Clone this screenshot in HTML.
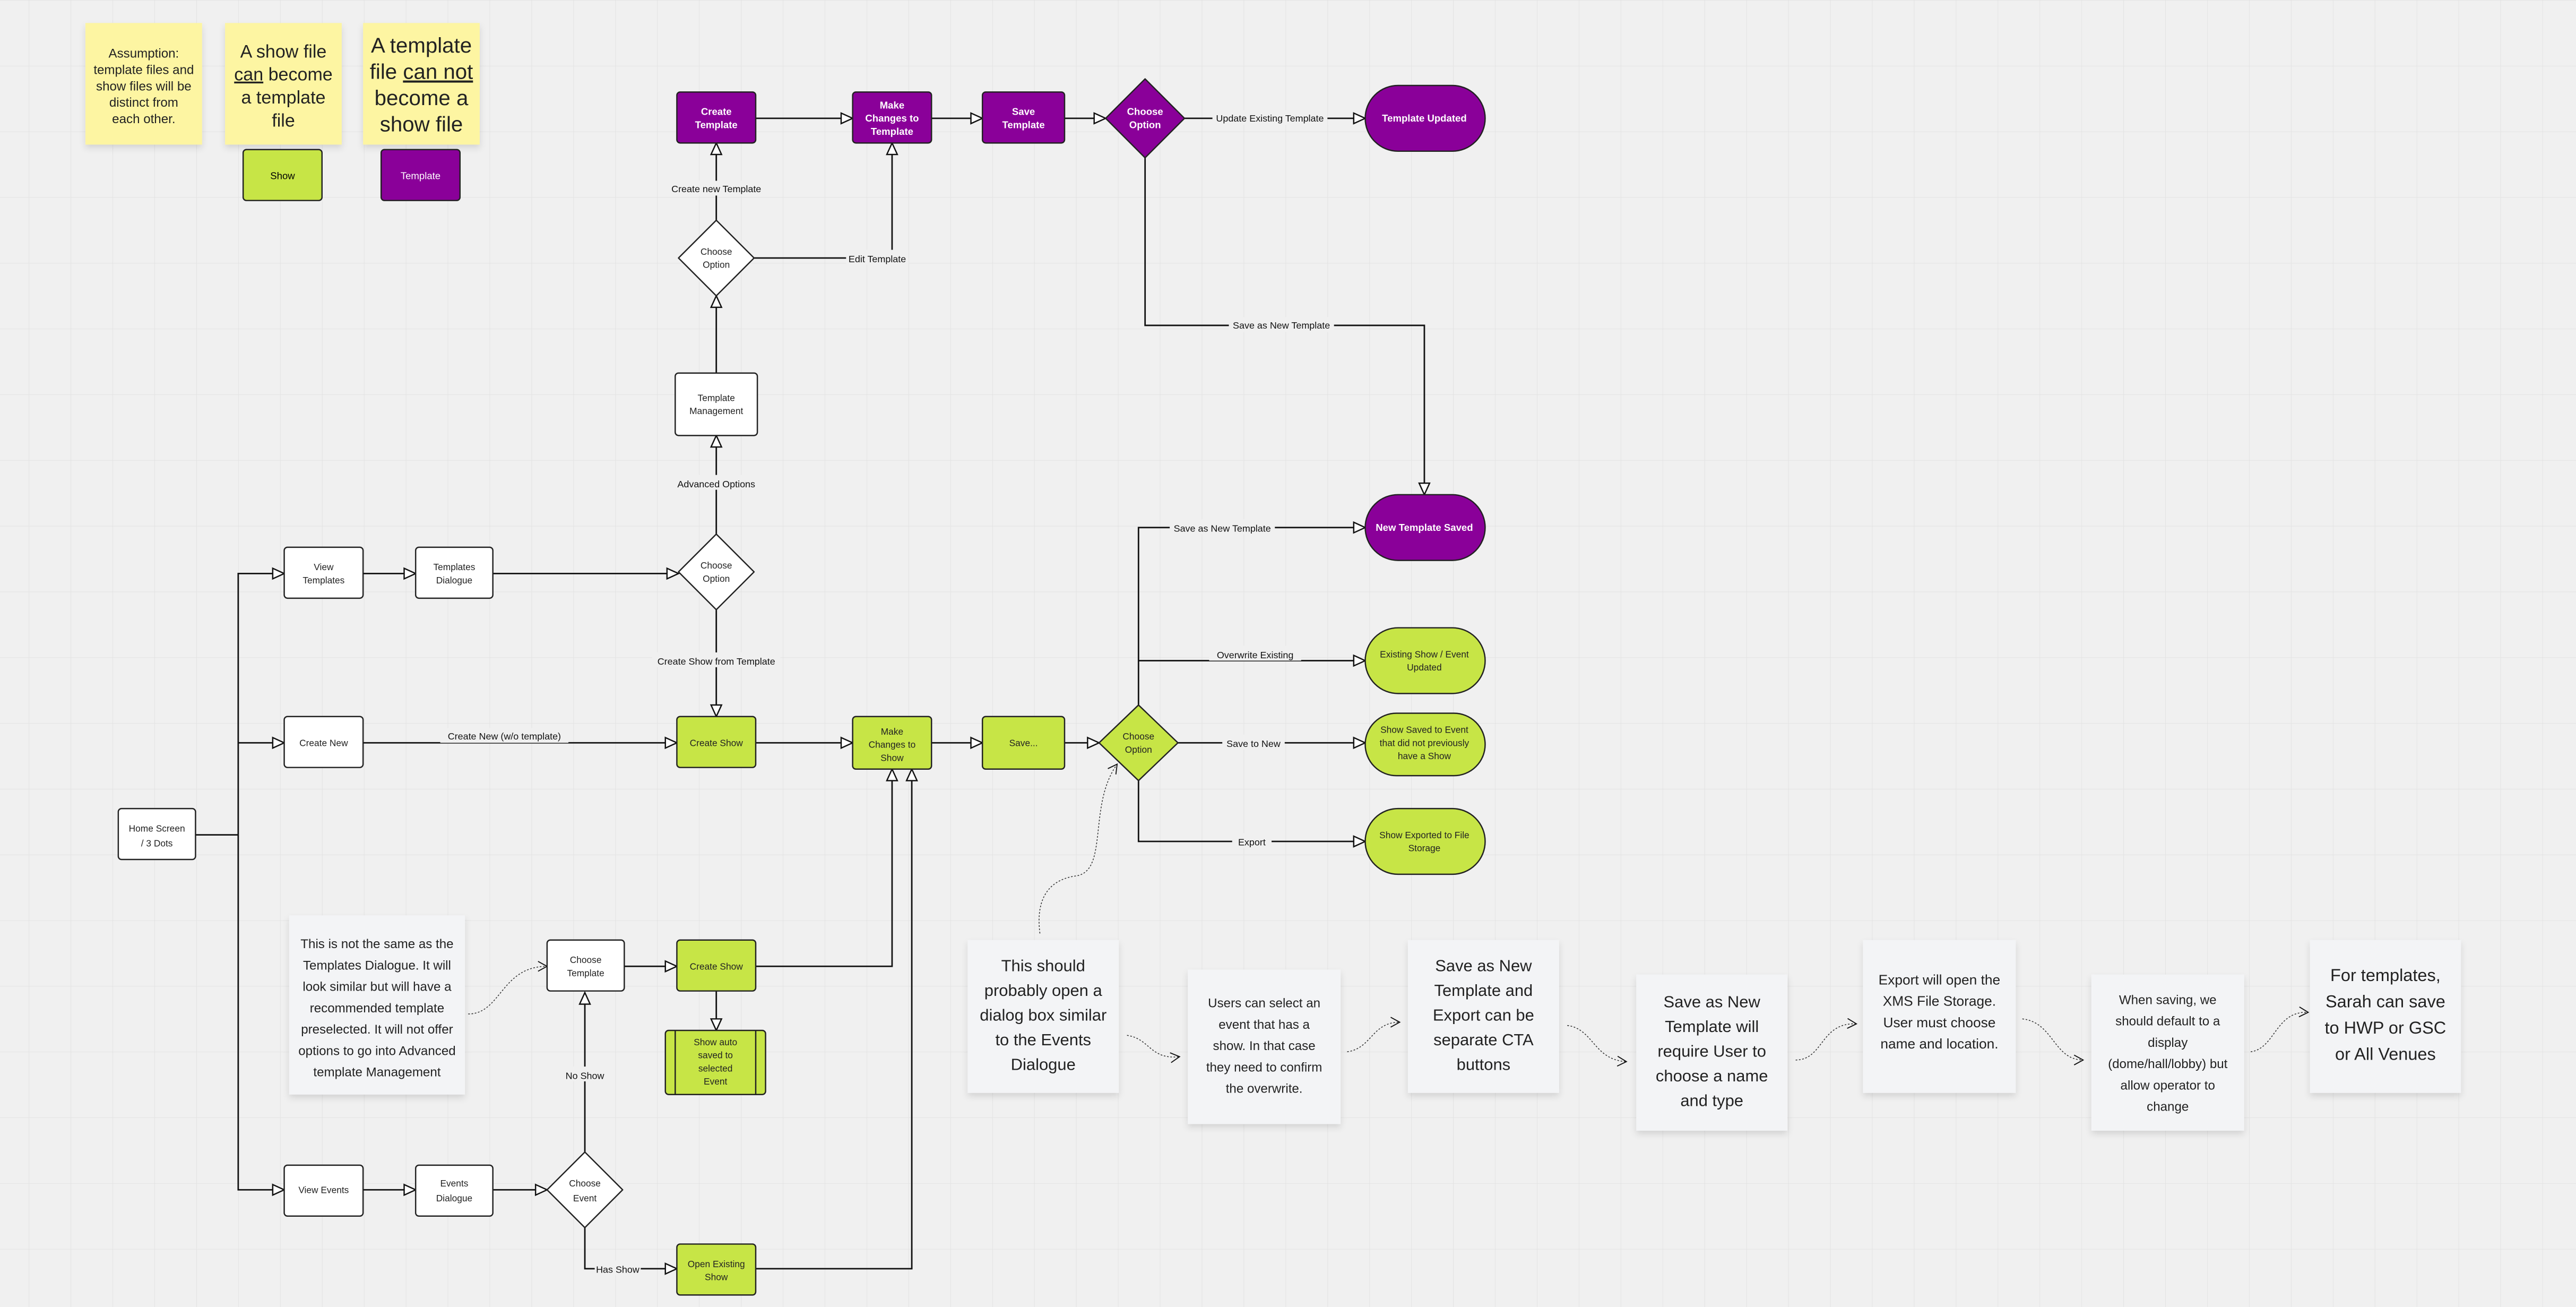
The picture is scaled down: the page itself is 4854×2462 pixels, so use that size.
<!DOCTYPE html>
<html><head><meta charset="utf-8">
<style>
html,body{margin:0;padding:0;background:#efefef;}
svg{display:block;}
text{font-family:"Liberation Sans",sans-serif;}
.nt{font-family:"Liberation Sans Narrow","Liberation Sans",sans-serif;}
</style></head>
<body>
<svg width="4854" height="2462" viewBox="0 0 1568 795.3" xmlns="http://www.w3.org/2000/svg">
<defs>
<pattern id="g" width="25.5" height="40" patternUnits="userSpaceOnUse" x="-8" y="0">
<rect width="25.5" height="40" fill="#f0f0f0"/>
<path d="M0 0V40M0 0H25.5" stroke="#e2e2e2" stroke-width="0.6" fill="none"/>
</pattern>
<marker id="a" markerUnits="userSpaceOnUse" markerWidth="9" markerHeight="9" refX="7.5" refY="4" orient="auto">
<path d="M0.5 0.8L7.5 4L0.5 7.2Z" fill="#fff" stroke="#111" stroke-width="0.8"/>
</marker>
<marker id="b" markerUnits="userSpaceOnUse" markerWidth="8" markerHeight="8" refX="6" refY="3.5" orient="auto">
<path d="M0.5 0.5L6 3.5L0.5 6.5" fill="none" stroke="#111" stroke-width="0.6"/>
</marker>
<filter id="sh" x="-20%" y="-20%" width="140%" height="150%"><feDropShadow dx="0" dy="2" stdDeviation="2" flood-color="#000" flood-opacity="0.12"/></filter>
</defs>
<rect width="1568" height="795.3" fill="url(#g)"/>

<!-- sticky notes -->
<g filter="url(#sh)">
<rect x="52" y="14" width="71" height="74" fill="#fdf5a2"/>
<rect x="137" y="14" width="71" height="74" fill="#fdf5a2"/>
<rect x="221" y="14" width="71" height="74" fill="#fdf5a2"/>
</g>
<g class="nt" text-anchor="middle" fill="#222">
<text font-size="7.8"><tspan x="87.5" y="35">Assumption:</tspan><tspan x="87.5" y="45">template files and</tspan><tspan x="87.5" y="55">show files will be</tspan><tspan x="87.5" y="65">distinct from</tspan><tspan x="87.5" y="75">each other.</tspan></text>
<text font-size="11"><tspan x="172.5" y="35">A show file</tspan><tspan x="172.5" y="49"><tspan text-decoration="underline">can</tspan>  become</tspan><tspan x="172.5" y="63">a template</tspan><tspan x="172.5" y="77">file</tspan></text>
<text font-size="13"><tspan x="256.5" y="32">A template</tspan><tspan x="256.5" y="48">file <tspan text-decoration="underline">can not</tspan></tspan><tspan x="256.5" y="64">become a</tspan><tspan x="256.5" y="80">show file</tspan></text>
</g>
<rect x="148" y="91" width="48" height="31" rx="2" fill="#c7e546" stroke="#222" stroke-width="0.8"/>
<text x="172" y="109" font-size="6" text-anchor="middle" class="nt">Show</text>
<rect x="232" y="91" width="48" height="31" rx="2" fill="#8a0099" stroke="#222" stroke-width="0.8"/>
<text x="256" y="109" font-size="6" text-anchor="middle" class="nt" fill="#fff">Template</text>

<!-- connectors -->
<g stroke="#111" stroke-width="0.9" fill="none">
<path d="M460 72H519" marker-end="url(#a)"/>
<path d="M567 72H598" marker-end="url(#a)"/>
<path d="M648 72H673" marker-end="url(#a)"/>
<path d="M721 72H831" marker-end="url(#a)"/>
<path d="M697 96V198H867V301" marker-end="url(#a)"/>
<path d="M436 134V87" marker-end="url(#a)"/>
<path d="M459 157H543V87" marker-end="url(#a)"/>
<path d="M436 227V180" marker-end="url(#a)"/>
<path d="M436 325V265" marker-end="url(#a)"/>
<path d="M221 349H253" marker-end="url(#a)"/>
<path d="M300 349H413" marker-end="url(#a)"/>
<path d="M436 371V436" marker-end="url(#a)"/>
<path d="M221 452H412" marker-end="url(#a)"/>
<path d="M460 452H519" marker-end="url(#a)"/>
<path d="M567 452H598" marker-end="url(#a)"/>
<path d="M648 452H669" marker-end="url(#a)"/>
<path d="M119 508H145"/>
<path d="M145 508V349H173" marker-end="url(#a)"/>
<path d="M145 452H173" marker-end="url(#a)"/>
<path d="M145 508V724H173" marker-end="url(#a)"/>
<path d="M221 724H253" marker-end="url(#a)"/>
<path d="M300 724H333" marker-end="url(#a)"/>
<path d="M356 701V604" marker-end="url(#a)"/>
<path d="M356 747V772H412" marker-end="url(#a)"/>
<path d="M380 588H412" marker-end="url(#a)"/>
<path d="M460 588H543V468" marker-end="url(#a)"/>
<path d="M436 603V627" marker-end="url(#a)"/>
<path d="M460 772H555V468" marker-end="url(#a)"/>
<path d="M693 429V321H831" marker-end="url(#a)"/>
<path d="M693 402H831" marker-end="url(#a)"/>
<path d="M717 452H831" marker-end="url(#a)"/>
<path d="M693 475V512H831" marker-end="url(#a)"/>
</g>
<!-- dotted curves -->
<g stroke="#333" stroke-width="0.5" fill="none" stroke-dasharray="1 1">
<path d="M285 617C305 617 305 588 333 588" marker-end="url(#b)"/>
<path d="M633 568C630 545 640 535 655 533C675 530 662 490 680 465" marker-end="url(#b)"/>
<path d="M686 630C700 632 700 645 718 643" marker-end="url(#b)"/>
<path d="M820 640C835 638 835 622 852 622" marker-end="url(#b)"/>
<path d="M954 624C970 626 970 645 990 646" marker-end="url(#b)"/>
<path d="M1093 645C1110 645 1108 622 1130 623" marker-end="url(#b)"/>
<path d="M1231 620C1250 622 1250 645 1268 645" marker-end="url(#b)"/>
<path d="M1370 640C1385 638 1385 615 1405 616" marker-end="url(#b)"/>
</g>

<!-- label backgrounds + labels -->
<g font-size="5.8" text-anchor="middle" fill="#111">
<rect x="738" y="67" width="70" height="9" fill="#f0f0f0"/><text x="773" y="74">Update Existing Template</text>
<rect x="748" y="193" width="64" height="9" fill="#f0f0f0"/><text x="780" y="200">Save as New Template</text>
<rect x="406" y="110" width="60" height="9" fill="#f0f0f0"/><text x="436" y="117">Create new Template</text>
<rect x="515" y="152" width="38" height="9" fill="#f0f0f0"/><text x="534" y="159.5">Edit Template</text>
<rect x="410" y="289" width="52" height="9" fill="#f0f0f0"/><text x="436" y="296.5">Advanced Options</text>
<rect x="397" y="397" width="78" height="9" fill="#f0f0f0"/><text x="436" y="404.5">Create Show from Template</text>
<rect x="268" y="443" width="78" height="9" fill="#f0f0f0"/><text x="307" y="450">Create New (w/o template)</text>
<rect x="342" y="649" width="28" height="9" fill="#f0f0f0"/><text x="356" y="656.5">No Show</text>
<rect x="362" y="767" width="28" height="9" fill="#f0f0f0"/><text x="376" y="774.5">Has Show</text>
<rect x="712" y="316" width="64" height="9" fill="#f0f0f0"/><text x="744" y="323.5">Save as New Template</text>
<rect x="736" y="393" width="56" height="9" fill="#f0f0f0"/><text x="764" y="400.5">Overwrite Existing</text>
<rect x="744" y="447" width="38" height="9" fill="#f0f0f0"/><text x="763" y="454.5">Save to New</text>
<rect x="750" y="507" width="24" height="9" fill="#f0f0f0"/><text x="762" y="514.5">Export</text>
</g>

<!-- purple nodes -->
<g stroke="#222" stroke-width="0.8" fill="#8a0099">
<rect x="412" y="56" width="48" height="31" rx="2"/>
<rect x="519" y="56" width="48" height="31" rx="2"/>
<rect x="598" y="56" width="50" height="31" rx="2"/>
<path d="M697 48L721 72L697 96L673 72Z" stroke-linejoin="round"/>
<rect x="831" y="52" width="73" height="40" rx="20"/>
<rect x="831" y="301" width="73" height="40" rx="20"/>
</g>
<g fill="#fff" font-size="6" font-weight="bold" text-anchor="middle" class="nt">
<text><tspan x="436" y="70">Create</tspan><tspan x="436" y="78">Template</tspan></text>
<text><tspan x="543" y="66">Make</tspan><tspan x="543" y="74">Changes to</tspan><tspan x="543" y="82">Template</tspan></text>
<text><tspan x="623" y="70">Save</tspan><tspan x="623" y="78">Template</tspan></text>
<text><tspan x="697" y="70">Choose</tspan><tspan x="697" y="78">Option</tspan></text>
<text x="867" y="74">Template Updated</text>
<text x="867" y="323">New Template Saved</text>
</g>

<!-- white nodes -->
<g stroke="#222" stroke-width="0.8" fill="#fff">
<path d="M436 134L459 157L436 180L413 157Z" stroke-linejoin="round"/>
<rect x="411" y="227" width="50" height="38" rx="2"/>
<path d="M436 325L459 348L436 371L413 348Z" stroke-linejoin="round"/>
<rect x="173" y="333" width="48" height="31" rx="2"/>
<rect x="253" y="333" width="47" height="31" rx="2"/>
<rect x="173" y="436" width="48" height="31" rx="2"/>
<rect x="72" y="492" width="47" height="31" rx="2"/>
<rect x="173" y="709" width="48" height="31" rx="2"/>
<rect x="253" y="709" width="47" height="31" rx="2"/>
<path d="M356 701L379 724L356 747L333 724Z" stroke-linejoin="round"/>
<rect x="333" y="572" width="47" height="31" rx="2"/>
</g>
<g fill="#222" font-size="5.6" text-anchor="middle">
<text><tspan x="436" y="155">Choose</tspan><tspan x="436" y="163">Option</tspan></text>
<text><tspan x="436" y="244">Template</tspan><tspan x="436" y="252">Management</tspan></text>
<text><tspan x="436" y="346">Choose</tspan><tspan x="436" y="354">Option</tspan></text>
<text><tspan x="197" y="347">View</tspan><tspan x="197" y="355">Templates</tspan></text>
<text><tspan x="276.5" y="347">Templates</tspan><tspan x="276.5" y="355">Dialogue</tspan></text>
<text x="197" y="454">Create New</text>
<text><tspan x="95.5" y="506">Home Screen</tspan><tspan x="95.5" y="515">/ 3 Dots</tspan></text>
<text x="197" y="726">View  Events</text>
<text><tspan x="276.5" y="722">Events</tspan><tspan x="276.5" y="731">Dialogue</tspan></text>
<text><tspan x="356" y="722">Choose</tspan><tspan x="356" y="731">Event</tspan></text>
<text><tspan x="356.5" y="586">Choose</tspan><tspan x="356.5" y="594">Template</tspan></text>
</g>

<!-- green nodes -->
<g stroke="#222" stroke-width="0.8" fill="#c7e546">
<rect x="412" y="436" width="48" height="31" rx="2"/>
<rect x="519" y="436" width="48" height="32" rx="2"/>
<rect x="598" y="436" width="50" height="32" rx="2"/>
<path d="M693 429L717 452L693 475L669 452Z" stroke-linejoin="round"/>
<rect x="831" y="382" width="73" height="40" rx="20"/>
<rect x="831" y="434" width="73" height="38" rx="19"/>
<rect x="831" y="492" width="73" height="40" rx="20"/>
<rect x="412" y="572" width="48" height="31" rx="2"/>
<rect x="405" y="627" width="61" height="39" rx="2"/>
<path d="M411 627V666M460 627V666"/>
<rect x="412" y="757" width="48" height="31" rx="2"/>
</g>
<g fill="#222" font-size="5.6" text-anchor="middle">
<text x="436" y="454">Create Show</text>
<text><tspan x="543" y="447">Make</tspan><tspan x="543" y="455">Changes to</tspan><tspan x="543" y="463">Show</tspan></text>
<text x="623" y="454">Save...</text>
<text><tspan x="693" y="450">Choose</tspan><tspan x="693" y="458">Option</tspan></text>
<text><tspan x="867" y="400">Existing Show / Event</tspan><tspan x="867" y="408">Updated</tspan></text>
<text><tspan x="867" y="446">Show Saved to Event</tspan><tspan x="867" y="454">that did not previously</tspan><tspan x="867" y="462">have a Show</tspan></text>
<text><tspan x="867" y="510">Show Exported to File</tspan><tspan x="867" y="518">Storage</tspan></text>
<text x="436" y="590">Create Show</text>
<text><tspan x="435.5" y="636">Show auto</tspan><tspan x="435.5" y="644">saved to</tspan><tspan x="435.5" y="652">selected</tspan><tspan x="435.5" y="660">Event</tspan></text>
<text><tspan x="436" y="771">Open Existing</tspan><tspan x="436" y="779">Show</tspan></text>
</g>

<!-- grey comment notes -->
<g fill="#f3f4f6" filter="url(#sh)">
<rect x="176" y="557" width="107" height="109"/>
<rect x="589" y="572" width="92" height="93"/>
<rect x="723" y="590" width="93" height="94"/>
<rect x="857" y="572" width="92" height="93"/>
<rect x="996" y="593" width="92" height="95"/>
<rect x="1134" y="572" width="93" height="93"/>
<rect x="1273" y="593" width="93" height="95"/>
<rect x="1406" y="572" width="92" height="93"/>
</g>
<g class="nt" fill="#222" text-anchor="middle">
<text font-size="7.8"><tspan x="229.5" y="577">This is not the same as the</tspan><tspan x="229.5" y="590">Templates Dialogue. It will</tspan><tspan x="229.5" y="603">look similar but will have a</tspan><tspan x="229.5" y="616">recommended template</tspan><tspan x="229.5" y="629">preselected. It will not offer</tspan><tspan x="229.5" y="642">options to go into Advanced</tspan><tspan x="229.5" y="655">template Management</tspan></text>
<text font-size="10"><tspan x="635" y="591">This should</tspan><tspan x="635" y="606">probably open a</tspan><tspan x="635" y="621">dialog box similar</tspan><tspan x="635" y="636">to the Events</tspan><tspan x="635" y="651">Dialogue</tspan></text>
<text font-size="7.8"><tspan x="769.5" y="613">Users can select an</tspan><tspan x="769.5" y="626">event that has a</tspan><tspan x="769.5" y="639">show. In that case</tspan><tspan x="769.5" y="652">they need to confirm</tspan><tspan x="769.5" y="665">the overwrite.</tspan></text>
<text font-size="10"><tspan x="903" y="591">Save as New</tspan><tspan x="903" y="606">Template and</tspan><tspan x="903" y="621">Export can be</tspan><tspan x="903" y="636">separate CTA</tspan><tspan x="903" y="651">buttons</tspan></text>
<text font-size="10"><tspan x="1042" y="613">Save as New</tspan><tspan x="1042" y="628">Template will</tspan><tspan x="1042" y="643">require User to</tspan><tspan x="1042" y="658">choose a name</tspan><tspan x="1042" y="673">and type</tspan></text>
<text font-size="8.5"><tspan x="1180.5" y="599">Export will open the</tspan><tspan x="1180.5" y="612">XMS File Storage.</tspan><tspan x="1180.5" y="625">User must choose</tspan><tspan x="1180.5" y="638">name and location.</tspan></text>
<text font-size="7.8"><tspan x="1319.5" y="611">When saving, we</tspan><tspan x="1319.5" y="624">should default to a</tspan><tspan x="1319.5" y="637">display</tspan><tspan x="1319.5" y="650">(dome/hall/lobby) but</tspan><tspan x="1319.5" y="663">allow operator to</tspan><tspan x="1319.5" y="676">change</tspan></text>
<text font-size="10.5"><tspan x="1452" y="597">For templates,</tspan><tspan x="1452" y="613">Sarah can save</tspan><tspan x="1452" y="629">to HWP or GSC</tspan><tspan x="1452" y="645">or All Venues</tspan></text>
</g>
</svg>
</body></html>
